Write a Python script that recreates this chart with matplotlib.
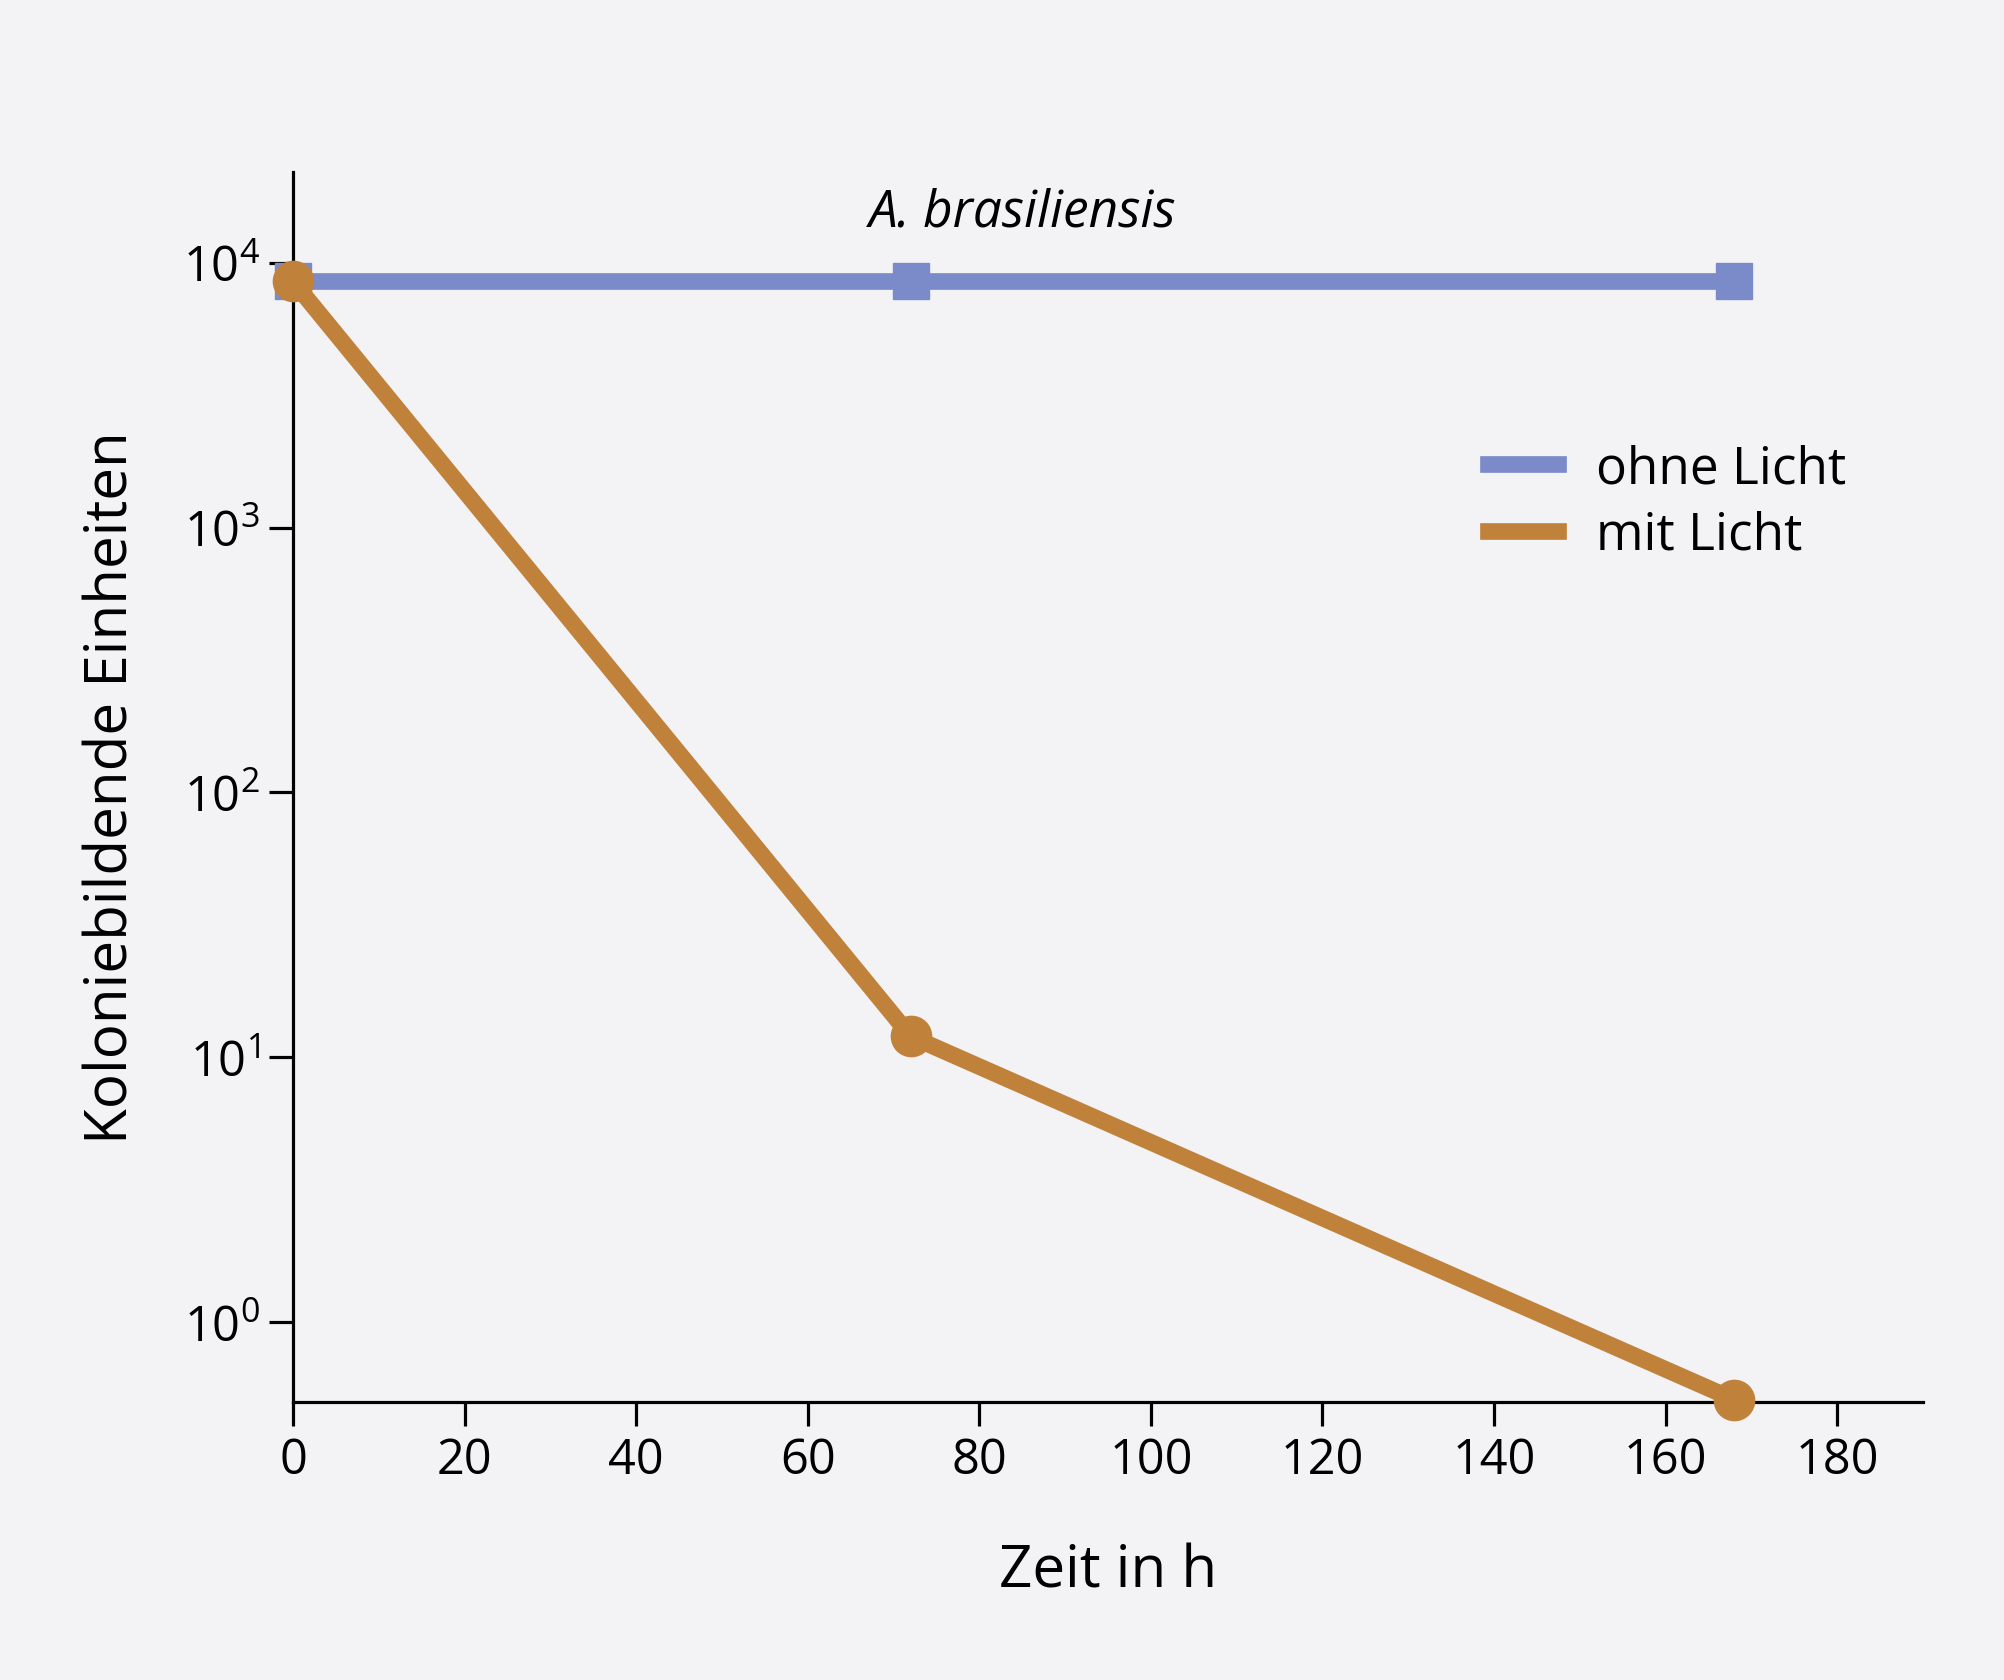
import matplotlib
matplotlib.use("Agg")
import matplotlib.pyplot as plt
from matplotlib.ticker import LogLocator, NullLocator

# Data
zeit = [0, 72, 168]
ohne_licht = [8500, 8500, 8500]
mit_licht = [8500, 12, 0.51]
x_ticks = [0, 20, 40, 60, 80, 100, 120, 140, 160, 180]

plt.rcParams['font.family'] = ['Open Sans', 'DejaVu Sans']
plt.rcParams['mathtext.default'] = 'regular'

bg = '#f3f3f5'
blue = '#7b8ac8'
orange = '#c0823a'

fig = plt.figure(figsize=(20.04, 16.81), dpi=100, facecolor=bg)
ax = fig.add_axes([0.1462, 0.1654, 0.8134, 0.7317])
ax.set_facecolor(bg)

ax.plot(zeit, ohne_licht, color=blue, lw=12, marker='s', ms=26,
        label='ohne Licht', clip_on=False, zorder=3)
ax.plot(zeit, mit_licht, color=orange, lw=12, marker='o', ms=29,
        label='mit Licht', clip_on=False, zorder=4)

ax.set_yscale('log')
ax.set_xlim(0, 190)
ax.set_ylim(0.5, 22000)
ax.set_xticks(x_ticks)
ax.yaxis.set_major_locator(LogLocator(base=10, numticks=10))
ax.yaxis.set_minor_locator(NullLocator())

for s in ['top', 'right']:
    ax.spines[s].set_visible(False)
for s in ['left', 'bottom']:
    ax.spines[s].set_linewidth(2.3)
ax.tick_params(axis='both', which='major', length=17, width=2.3,
               labelsize=35, pad=7)

ax.set_xlabel('Zeit in h', fontsize=42, labelpad=41)
ax.set_ylabel('Koloniebildende Einheiten', fontsize=42, labelpad=30)

ax.text(85, 15500, 'A. brasiliensis', fontsize=37, style='italic',
        ha='center', va='center')

handles = [plt.Line2D([], [], color=blue, lw=12),
           plt.Line2D([], [], color=orange, lw=12)]
ax.legend(handles, ['ohne Licht', 'mit Licht'], loc='upper left',
          bbox_to_anchor=(0.705, 0.817), frameon=False, fontsize=37,
          handlelength=1.35, handletextpad=0.75, labelspacing=0.3)

fig.savefig('out.png', dpi=100, facecolor=bg)
